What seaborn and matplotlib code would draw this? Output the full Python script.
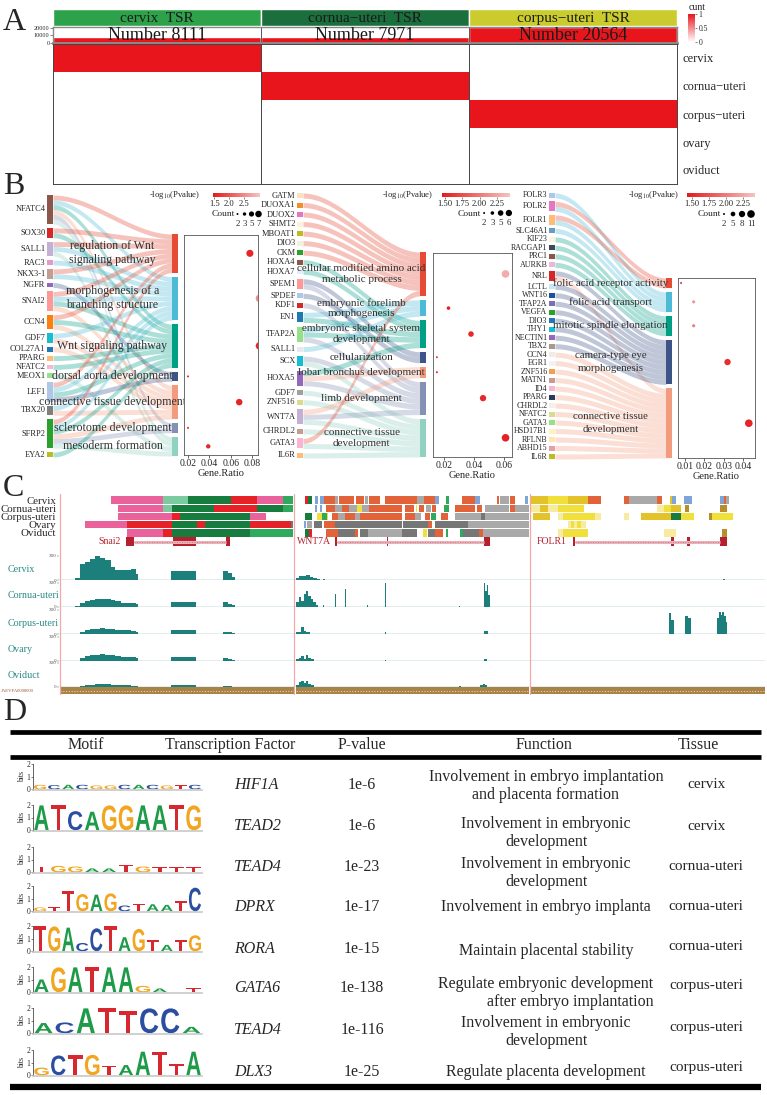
import numpy as np
import pandas as pd
import matplotlib
matplotlib.use('Agg')
import matplotlib.pyplot as plt
import seaborn as sns
from matplotlib.colors import LinearSegmentedColormap, Normalize
from matplotlib.cm import ScalarMappable
from matplotlib.textpath import TextPath
from matplotlib.patches import PathPatch, Rectangle
from matplotlib.font_manager import FontProperties
import matplotlib.transforms as mtransforms

sns.set_style('white')
plt.rcParams['font.family'] = ['Liberation Serif', 'DejaVu Serif']
plt.rcParams['mathtext.fontset'] = 'stix'
plt.rcParams['axes.linewidth'] = 0.6

# ---------------- data: panel A ----------------
tsr_labels = ['cervix  TSR', 'cornua\u2212uteri  TSR', 'corpus\u2212uteri  TSR']
tsr_numbers = [8111, 7971, 20564]
tissues = ['cervix', 'cornua\u2212uteri', 'corpus\u2212uteri', 'ovary', 'oviduct']
tsr_matrix = [[1, 0, 0], [0, 1, 0], [0, 0, 1], [0, 0, 0], [0, 0, 0]]

# ---------------- data: panel B ----------------
genes1 = ['NFATC4', 'SOX30', 'SALL1', 'RAC3', 'NKX3-1', 'NGFR', 'SNAI2', 'CCN4', 'GDF7', 'COL27A1',
          'PPARG', 'NFATC2', 'MEOX1', 'LEF1', 'TBX20', 'SFRP2', 'EYA2']
terms1 = ['regulation of Wnt\nsignaling pathway', 'morphogenesis of a\nbranching structure',
          'Wnt signaling pathway', 'dorsal aorta development', 'connective tissue development',
          'sclerotome development', 'mesoderm formation']
links1 = [[0, 1, 2, 4, 5, 6], [0, 2], [0, 1, 6], [1], [0, 1], [3], [0, 1, 2, 4], [0, 2, 4], [1, 4], [4],
          [2], [2], [6], [0, 1, 2, 3], [1, 4], [0, 1, 2, 4, 5, 6], [2]]
ratio1 = [0.078, 0.087, 0.087, 0.020, 0.068, 0.020, 0.039]
count1 = [8, 9, 9, 2, 7, 2, 4]
logp1 = [1.55, 2.55, 1.6, 1.5, 1.55, 1.5, 1.55]

genes2 = ['GATM', 'DUOXA1', 'DUOX2', 'SHMT2', 'MBOAT1', 'DIO3', 'CKM', 'HOXA4', 'HOXA7', 'SPEM1', 'SPDEF',
          'KDF1', 'EN1', 'TFAP2A', 'SALL1', 'SCX', 'HOXA5', 'GDF7', 'ZNF516', 'WNT7A', 'CHRDL2', 'GATA3', 'IL6R']
terms2 = ['cellular modified amino acid\nmetabolic process', 'embryonic forelimb\nmorphogenesis',
          'embryonic skeletal system\ndevelopment', 'cellularization', 'lobar bronchus development',
          'limb development', 'connective tissue\ndevelopment']
links2 = [[0], [0], [0], [0], [0], [0], [0], [2], [2], [3, 5], [3], [5], [1, 2], [1, 2, 5], [1], [5, 6],
          [2, 4, 5], [6], [6], [4, 5, 6], [6], [0, 6], [6]]
ratio2 = [0.061, 0.023, 0.038, 0.0153, 0.0153, 0.046, 0.061]
count2 = [8, 3, 5, 2, 2, 6, 8]
logp2 = [2.3, 1.5, 1.55, 1.55, 1.5, 1.55, 1.5]

genes3 = ['FOLR3', 'FOLR2', 'FOLR1', 'SLC46A1', 'KIF23', 'RACGAP1', 'PRC1', 'AURKB', 'NRL', 'LCTL', 'WNT16',
          'TFAP2A', 'VEGFA', 'DIO3', 'THY1', 'NECTIN1', 'TBX2', 'CCN4', 'EGR1', 'ZNF516', 'MATN1', 'ID4',
          'PPARG', 'CHRDL2', 'NFATC2', 'GATA3', 'HSD17B1', 'RFLNB', 'ABHD15', 'IL6R']
terms3 = ['folic acid receptor activity', 'folic acid transport', 'mitotic spindle elongation',
          'camera-type eye\nmorphogenesis', 'connective tissue\ndevelopment']
links3 = [[1], [0, 1], [0, 1], [1], [2], [2], [2], [2], [3, 4], [3], [3], [3], [3], [3], [3], [3], [3],
          [4], [4], [4], [4], [4], [4], [4], [4], [4], [4], [4], [4], [4]]
ratio3 = [0.008, 0.0145, 0.0145, 0.032, 0.043]
count3 = [2, 3, 3, 8, 11]
logp3 = [1.5, 2.15, 2.0, 1.55, 1.5]

# ---------------- data: panel C ----------------
track_names = ['Cervix', 'Cornua-uteri', 'Corpus-uteri', 'Ovary', 'Oviduct']
cervix_states = [(22, 44, 'P'), (44, 55, 'LT'), (55, 73, 'DG'), (73, 84, 'R'), (84, 95, 'P'), (95, 99.5, 'G'),
                 (104.7, 105.9, 'R'), (105.9, 107.6, 'DG'), (108.9, 110.2, 'B'), (111, 112.7, 'B'),
                 (112.7, 117.4, 'O'), (117.4, 118.6, 'GR'), (119.1, 125.4, 'O'), (126.3, 129.7, 'O'),
                 (130.1, 131.4, 'GR'), (131.8, 136.4, 'O'), (138.6, 152.1, 'O'), (152.1, 155.1, 'GR'),
                 (155.1, 159.7, 'O'), (159.7, 161.4, 'B'), (164.4, 165.7, 'G'), (171.2, 176.7, 'O'),
                 (176.7, 178.8, 'B'), (186, 186.9, 'O'), (187.3, 191.1, 'GR'), (191.5, 193.6, 'O'),
                 (197.9, 199.2, 'B'),
                 (200.1, 207.9, 'GO'), (207.9, 216.3, 'Y'), (216.3, 224.8, 'GO'), (224.8, 230.4, 'O'),
                 (240.2, 242.3, 'O'), (242.3, 254.3, 'GR'), (254.3, 256.4, 'O'), (259.6, 260.6, 'GO'),
                 (260.6, 262, 'B'), (265.5, 269.1, 'B'), (280.7, 282.5, 'B'), (282.5, 283.3, 'O'),
                 (283.3, 284.5, 'GR')]
cornua_states = [(25, 44, 'P'), (44, 48, 'LT'), (48, 66, 'DG'), (66, 84, 'R'), (84, 95, 'DG'), (95, 99.5, 'G'),
                 (108.9, 109.5, 'B'), (111, 111.8, 'B'), (113.5, 117.4, 'O'), (117.4, 120.3, 'GR'),
                 (120.3, 123.1, 'O'), (123.1, 126.7, 'GR'), (126.7, 128.8, 'Y'), (128.8, 131.6, 'GR'),
                 (131.6, 145.8, 'O'), (147, 150.8, 'O'), (151.5, 152.1, 'Y'), (152.8, 155.1, 'O'),
                 (155.8, 157.9, 'GR'), (158.6, 160, 'O'), (163.6, 165.7, 'G'), (168.2, 176.7, 'O'),
                 (177.5, 179.7, 'O'), (180.9, 191.1, 'GR'), (191.5, 193.6, 'O'), (193.6, 199.6, 'GR'),
                 (200.1, 204.4, 'LY'), (204.4, 207.9, 'GO'), (207.9, 212.1, 'LY'), (212.1, 223.3, 'Y'),
                 (254.3, 257.1, 'LY'), (257.1, 259.9, 'Y'), (259.9, 264.1, 'GO'), (266.2, 267.6, 'DGO'),
                 (280.7, 283.8, 'DGO')]
corpus_states = [(25, 48, 'P'), (48, 51.5, 'R'), (51.5, 81, 'DG'), (81, 88, 'P'),
                 (104.7, 107.6, 'DG'), (109.5, 111.6, 'Y'), (111.6, 113.7, 'G'), (113.7, 114.4, 'Y'),
                 (115.8, 118.6, 'O'), (118.6, 121.5, 'GR'), (121.5, 125.7, 'O'), (125.7, 128, 'GR'),
                 (128, 145.8, 'O'), (147, 151.2, 'O'), (151.2, 154, 'GR'), (155.4, 157.5, 'O'),
                 (158.2, 160.3, 'G'), (162.4, 165.3, 'O'), (168.2, 179.5, 'GR'), (179.5, 180.9, 'DGR'),
                 (180.9, 199.6, 'GR'),
                 (201.6, 208.6, 'GO'), (212.1, 214.2, 'LY'), (214.2, 227.6, 'Y'), (227.6, 230.4, 'LY'),
                 (240.2, 242.3, 'LY'), (247.3, 259.9, 'GO'), (259.9, 264.1, 'DG'), (264.1, 269.8, 'Y'),
                 (276.1, 277.5, 'DGO'), (277.5, 286.6, 'Y')]
ovary_states = [(11, 29, 'P'), (29, 48, 'R'), (48, 58.5, 'DG'), (58.5, 62, 'R'), (62, 81, 'DG'), (81, 98.5, 'R'),
                (98.5, 99.5, 'DGR'),
                (104.2, 105.1, 'B'), (105.5, 107.6, 'GR'), (108.3, 111.8, 'DGR'), (112.5, 117.4, 'O'),
                (117.4, 145.6, 'DGR'), (146.2, 157, 'DGR'), (157, 158.4, 'O'), (159.8, 173.9, 'DGR'),
                (173.9, 199.6, 'GR'),
                (216.3, 217.5, 'LY'), (217.5, 219, 'Y'), (219, 220, 'LY'), (220, 222, 'Y'), (222, 224.1, 'LY')]
oviduct_states = [(29, 44, 'P'), (44, 48, 'R'), (48, 81, 'DG'), (81, 99.5, 'G'),
                  (104.7, 106.1, 'DG'), (106.1, 107.6, 'R'), (113.3, 118.6, 'O'), (118.6, 125.7, 'DGR'),
                  (125.7, 127.1, 'O'), (127.8, 131.4, 'DGR'), (131.4, 145.8, 'GR'), (145.8, 152, 'DGR'),
                  (154.8, 156.2, 'Y'), (156.9, 159.7, 'DGR'), (159.7, 163.2, 'O'), (164.6, 165.3, 'G'),
                  (170.2, 171.6, 'G'), (171.6, 178.6, 'DGR'), (178.6, 180, 'O'), (180, 199.6, 'GR'),
                  (212.1, 214.2, 'LY'), (214.2, 224.8, 'Y'), (257.1, 262, 'LY'), (281.7, 283.8, 'DGO')]

gene_names_c = ['Snai2', 'WNT7A', 'FOLR1']
gene_label_at = [16.7, 101.3, 203]
gene_spans = [(31.8, 70.8), (118.2, 180.5), (219.4, 281)]
gene_exons = [[(28.3, 31.8), (48.5, 58.4), (70.8, 72.5)],
              [(117.4, 118.2), (139.4, 139.8), (180.5, 183.1)],
              [(218.6, 219.4), (259.9, 261.2), (266.7, 268), (281, 284)]]

snai2_bins = [(7, 9), (9, 11), (11, 13.3), (13.3, 15.5), (15.5, 17.6), (17.6, 19.7), (19.7, 21.9), (21.9, 24),
              (24, 26.2), (26.2, 28.3), (28.3, 30.5), (30.5, 32.6), (32.6, 33.5), (47.6, 58.4),
              (69.5, 72), (72, 73.4), (73.4, 74.7)]
cervix_snai2 = [20, 200, 230, 260, 300, 280, 245, 165, 130, 125, 125, 135, 70, 115, 115, 85, 40]
cornua_snai2 = [10, 50, 75, 85, 95, 100, 95, 85, 70, 55, 55, 50, 40, 60, 60, 40, 20]
corpus_snai2 = [5, 30, 50, 60, 65, 70, 65, 60, 55, 50, 45, 40, 30, 45, 30, 20, 10]
ovary_snai2 = [5, 40, 65, 75, 80, 85, 80, 70, 60, 55, 50, 45, 35, 55, 40, 25, 10]
oviduct_snai2 = [3, 15, 25, 30, 32, 35, 32, 30, 25, 22, 20, 18, 12, 20, 15, 10, 5]

cervix_peaks = [(100.5, 102, 30), (102, 103.5, 55), (103.5, 105, 45), (105, 106.5, 60), (106.5, 108, 40),
                (108, 109.5, 25), (109.5, 111, 15), (112, 113, 10), (282, 283, 10)]
cornua_peaks = [(100.5, 102, 60), (102, 103, 120), (103, 104, 80), (104, 105, 160), (105, 106, 200),
                (106, 107, 140), (107, 108, 100), (108, 109, 60), (109, 110, 30), (112, 112.6, 20),
                (117.2, 117.7, 165), (121.4, 121.9, 230), (130.8, 131.2, 20), (138.4, 138.9, 300),
                (160, 160.4, 15), (170, 170.4, 10), (180.5, 181.2, 300), (181.2, 182, 200), (182, 182.5, 280),
                (182.5, 183.3, 150)]
corpus_peaks = [(100.5, 102, 30), (102, 103, 20), (103, 104, 90), (104, 105, 40), (105, 106.5, 25),
                (138.4, 138.8, 20), (180.8, 182.2, 40), (259.1, 260.2, 260), (260.2, 261.2, 180),
                (266.2, 267.2, 230), (267.2, 268.4, 200), (279.7, 280.4, 200), (280.4, 281.1, 270),
                (281.1, 281.8, 240), (281.8, 282.6, 280), (282.6, 283.3, 230), (283.3, 284, 150)]
ovary_peaks = [(100.5, 102, 20), (102, 103, 40), (103, 104, 60), (104, 105, 30), (105, 106, 70),
               (106, 107, 40), (107, 108.5, 20), (138.4, 138.8, 15), (180.8, 181.8, 20)]
oviduct_peaks = [(100.5, 102, 30), (102, 103, 60), (103, 104, 70), (104, 105, 50), (105, 106, 80),
                 (106, 107, 40), (107, 108.5, 30), (170, 171, 15), (179, 180, 25), (180, 181, 35), (181, 182, 20)]

# ---------------- data: panel D ----------------
table_header = ['Motif', 'Transcription Factor', 'P-value', 'Function', 'Tissue']
motif_seqs = ['GCACGGCACGTC', 'ATCAGGAATG', 'TGGAATGTTT', 'GTTGAGCTAATC', 'TGACCTAGTATG',
              'AGATAAGA T', 'ACATTCCA', 'GCTGTAATTA']
motif_heights = [[0.35, 0.33, 0.35, 0.35, 0.3, 0.3, 0.35, 0.35, 0.35, 0.3, 0.35, 0.35],
                 [1.95, 1.95, 1.5, 1.45, 1.95, 1.95, 1.95, 1.95, 1.95, 1.95],
                 [0.45, 0.5, 0.45, 0.3, 0.3, 0.55, 0.45, 0.4, 0.4, 0.4],
                 [0.3, 0.35, 1.6, 1.35, 1.3, 1.4, 0.45, 0.55, 0.55, 0.5, 0.8, 1.85],
                 [1.95, 1.95, 1.85, 0.65, 1.8, 1.95, 1.1, 1.75, 0.85, 0.5, 0.9, 1.25],
                 [1.0, 1.95, 1.95, 1.95, 1.95, 1.95, 0.5, 0.3, 0, 0.3],
                 [0.8, 0.85, 1.95, 1.95, 1.75, 1.95, 1.95, 0.5],
                 [0.6, 1.55, 1.55, 1.6, 0.75, 0.8, 1.85, 1.85, 0.9, 1.85]]
tf_names = ['HIF1A', 'TEAD2', 'TEAD4', 'DPRX', 'RORA', 'GATA6', 'TEAD4', 'DLX3']
p_values = ['1e-6', '1e-6', '1e-23', '1e-17', '1e-15', '1e-138', '1e-116', '1e-25']
functions = ['Involvement in embryo implantation\nand placenta formation',
             'Involvement in embryonic\ndevelopment', 'Involvement in embryonic\ndevelopment',
             'Involvement in embryo implanta', 'Maintain placental stability',
             'Regulate embryonic development\nafter embryo implantation',
             'Involvement in embryonic\ndevelopment', 'Regulate placenta development']
tissue_col = ['cervix', 'cervix', 'cornua-uteri', 'cornua-uteri', 'cornua-uteri',
              'corpus-uteri', 'corpus-uteri', 'corpus-uteri']

# ---------------- styles ----------------
tsr_colors = ['#2ea24a', '#1b6f3d', '#c9cc2c']
npg = ['#E64B35', '#4DBBD5', '#00A087', '#3C5488', '#F39B7F', '#8491B4', '#91D1C2']
gene_colors1 = ['#8c564b', '#d62728', '#c5b0d5', '#e59acb', '#c49c94', '#9467bd', '#ff9896', '#ff7f0e',
                '#17becf', '#1f77b4', '#ffbb78', '#f7b6d2', '#98df8a', '#aec7e8', '#7f7f7f', '#2ca02c', '#bcbd22']
gene_colors2 = ['#fde2c0', '#f28e2b', '#e377c2', '#fff0d8', '#bcbd22', '#f5f0dc', '#2ca02c', '#8c564b',
                '#dfeef8', '#ff9896', '#aec7e8', '#d62728', '#1f77b4', '#98df8a', '#e8e8ef', '#17becf',
                '#9467bd', '#a0a0a0', '#dbdb8d', '#c5b0d5', '#c49c94', '#f7b6d2', '#ffbb78']
gene_colors3 = ['#aec7e8', '#e377c2', '#ffbb78', '#6b9ac4', '#fdf3e0', '#3a4a5a', '#8c564b', '#e8b8d8',
                '#d62728', '#c6e8f0', '#1f4fa0', '#7b6fb8', '#2ca02c', '#1f77b4', '#17becf', '#9467bd',
                '#a89a8a', '#f0ece4', '#f6f0f0', '#f0a050', '#c49c94', '#f7b6d2', '#2a3a5a', '#f4efe8',
                '#dbdb8d', '#98df8a', '#fff2c0', '#ffe8b0', '#e8a0a8', '#bcbd22']
state_colors = {'P': '#e9629b', 'LT': '#7ccaa0', 'DG': '#167d3e', 'R': '#e62128', 'G': '#2fa95c',
                'O': '#e2623a', 'GR': '#a9a9a9', 'DGR': '#767676', 'B': '#7fa5d6', 'Y': '#f1e03c',
                'GO': '#e4c229', 'LY': '#f6eba0', 'DGO': '#b68f2a'}
letter_colors = {'A': '#1e9b48', 'C': '#2c4ea0', 'G': '#f2a51f', 'T': '#d7282f'}
teal = '#1d7f7c'
cmap_cunt = LinearSegmentedColormap.from_list('cunt', ['#ffffff', '#e8161c'])
cmap_p = LinearSegmentedColormap.from_list('pv', ['#e41a1c', '#f4c4c0'])

W, H = 767, 1095
fig = plt.figure(figsize=(W / 100, H / 100), dpi=100)


def px_axes(x0, y0, x1, y1):
    return fig.add_axes([x0 / W, 1 - y1 / H, (x1 - x0) / W, (y1 - y0) / H])


def ftext(x, y, s, **kw):
    return fig.text(x / W, 1 - y / H, s, **kw)


for letter, y in zip('ABCD', [22, 187, 488, 712]):
    ftext(3, y, letter, fontsize=23, va='center', ha='left')

# ================= panel A =================
ax = px_axes(53, 9, 677, 26)
ax.bar(range(3), [1, 1, 1], width=1, color=tsr_colors)
ax.set_xlim(-0.5, 2.5)
ax.set_ylim(0, 1)
ax.axis('off')
for i, lab in enumerate(tsr_labels):
    ax.text(i, 0.45, lab, ha='center', va='center', fontsize=11, color='#1a1a1a')

ax = px_axes(53, 27, 677, 43)
num_df = pd.DataFrame({'group': tsr_labels, 'n': tsr_numbers})
sns.barplot(data=num_df, x='group', y='n', color='#e8161c', saturation=1, width=1, errorbar=None, ax=ax)
ax.set_xlim(-0.5, 2.5)
ax.set_ylim(0, 21000)
ax.set_xticks([])
ax.set_xlabel('')
ax.set_ylabel('')
ax.set_yticks([0, 10000, 20000])
ax.tick_params(axis='y', labelsize=4.5, length=2, width=0.4, pad=0.5, left=True)
for i, n in enumerate(tsr_numbers):
    ax.text(i, 10000, 'Number %d' % n, ha='center', va='center', fontsize=13, color='#1a1a1a')
for s in ax.spines.values():
    s.set_color('#8a8a8a')
    s.set_linewidth(1.0)
ax.spines['bottom'].set_linewidth(2)
ax.axvline(0.5, color='#555555', lw=0.7)
ax.axvline(1.5, color='#555555', lw=0.7)

ax = px_axes(53, 44, 677, 184)
sns.heatmap(pd.DataFrame(tsr_matrix, index=tissues, columns=tsr_labels), cmap=cmap_cunt, vmin=0, vmax=1,
            cbar=False, xticklabels=False, ax=ax)
ax.yaxis.tick_right()
ax.set_yticks(np.arange(5) + 0.5)
ax.set_yticklabels(tissues, rotation=0, fontsize=9)
ax.tick_params(length=0, pad=4)
ax.set_ylabel('')
for s in ax.spines.values():
    s.set_visible(True)
    s.set_color('#444444')
    s.set_linewidth(0.7)
ax.axvline(1, color='#444444', lw=0.7)
ax.axvline(2, color='#444444', lw=0.7)

cax = px_axes(688, 14, 695, 42)
cb = fig.colorbar(ScalarMappable(Normalize(0, 1), cmap_cunt), cax=cax)
cb.outline.set_visible(False)
cb.set_ticks([0, 0.5, 1])
cb.set_ticklabels(['0', '0.5', '1'])
cax.tick_params(labelsize=5.5, length=1.5, width=0.4, pad=1)
ftext(689, 7, 'cunt', fontsize=7, ha='left', va='center')


# ================= panel B =================
def sankey(rect, genes, gcols, terms, links, gspan, tspan, ggap, tgap, term_fs, gene_fs, lsp):
    x0, y0, x1, y1 = rect
    ax = px_axes(x0, y0, x1, y1)
    ax.set_xlim(x0, x1)
    ax.set_ylim(y1, y0)
    ax.axis('off')
    gcount = [len(l) for l in links]
    tcount = [sum(t in l for l in links) for t in range(len(terms))]
    gu = (gspan[1] - gspan[0] - ggap * (len(genes) - 1)) / sum(gcount)
    tu = (tspan[1] - tspan[0] - tgap * (len(terms) - 1)) / sum(tcount)
    gpos, tpos = [], []
    y = gspan[0]
    for c in gcount:
        gpos.append(y)
        y += c * gu + ggap
    y = tspan[0]
    for c in tcount:
        tpos.append(y)
        y += c * tu + tgap
    bw = 6
    xs = np.linspace(x0 + bw, x1 - bw, 80)
    s = (xs - xs[0]) / (xs[-1] - xs[0])
    s = s * s * (3 - 2 * s)
    gcur, tcur = list(gpos), list(tpos)
    for gi, lk in enumerate(links):
        for t in sorted(lk):
            gy, ty = gcur[gi], tcur[t]
            top = gy + (ty - gy) * s
            bot = gy + gu + (ty + tu - gy - gu) * s
            ax.fill_between(xs, top, bot, color=npg[t], alpha=0.33, lw=0)
            gcur[gi] += gu
            tcur[t] += tu
    for gi, g in enumerate(genes):
        ax.add_patch(Rectangle((x0, gpos[gi]), bw, gcount[gi] * gu, color=gcols[gi], lw=0))
        ax.text(x0 - 1.5, gpos[gi] + gcount[gi] * gu / 2, g, ha='right', va='center', fontsize=gene_fs,
                clip_on=False)
    centers = []
    for t, name in enumerate(terms):
        ax.add_patch(Rectangle((x1 - bw, tpos[t]), bw, tcount[t] * tu, color=npg[t], lw=0))
        c = tpos[t] + tcount[t] * tu / 2
        centers.append(c)
        ax.text((x0 + x1) / 2, c, name, ha='center', va='center', fontsize=term_fs, color='#333333',
                linespacing=lsp)
    return centers


def dotplot(rect, centers, ratio, count, logp, xlim, xticks, xticklabels, vlim, smax):
    x0, y0, x1, y1 = rect
    ax = px_axes(x0, y0, x1, y1)
    df = pd.DataFrame({'ratio': ratio, 'y': centers, 'count': count, 'logp': logp})
    sns.scatterplot(data=df, x='ratio', y='y', hue='logp', size='count', palette=cmap_p, hue_norm=vlim,
                    sizes=(2, 30), size_norm=(2, smax), legend=False, linewidth=0, ax=ax)
    ax.set_ylim(y1, y0)
    ax.set_xlim(*xlim)
    ax.set_xticks(xticks)
    ax.set_xticklabels(xticklabels)
    ax.set_yticks([])
    ax.set_ylabel('')
    ax.set_xlabel('Gene.Ratio', fontsize=7.5, labelpad=0.5)
    ax.tick_params(axis='x', labelsize=7, length=2, width=0.5, pad=1, bottom=True)
    for sp in ax.spines.values():
        sp.set_color('#555555')
        sp.set_linewidth(0.6)


def p_colorbar(label_right, rect, vlim, ticks, ticklabels):
    cax = px_axes(*rect)
    cb = fig.colorbar(ScalarMappable(Normalize(*vlim), cmap_p), cax=cax, orientation='horizontal')
    cb.outline.set_visible(False)
    cb.set_ticks(ticks)
    cb.set_ticklabels(ticklabels)
    cax.tick_params(labelsize=6.2, length=1.5, width=0.4, pad=0.5)
    ftext(label_right, (rect[1] + rect[3]) / 2, r'-log$_{10}$(Pvalue)', ha='right', va='center', fontsize=6.2)


def count_legend(rect, breaks, smax):
    x0, y0, x1, y1 = rect
    ax = px_axes(x0, y0, x1, y1)
    sns.scatterplot(x=list(range(len(breaks))), y=[1] * len(breaks), size=breaks, sizes=(2, 30),
                    size_norm=(2, smax), color='black', linewidth=0, legend=False, ax=ax)
    for i, b in enumerate(breaks):
        ax.text(i, 0, str(b), ha='center', va='center', fontsize=6.3)
    ax.set_xlim(-0.5, len(breaks) - 0.5)
    ax.set_ylim(-0.5, 1.5)
    ax.axis('off')
    ftext(x0 + 1, y0 + 5.5, 'Count', ha='right', va='center', fontsize=6.8)


c1 = sankey((47, 188, 178, 462), genes1, gene_colors1, terms1, links1, (195, 457), (234, 456), 4, 4, 8.6, 6.0, 1.2)
dotplot((184, 235, 258, 455), c1, ratio1, count1, logp1, (0.0163, 0.0856), [0.02, 0.04, 0.06, 0.08],
        ['0.02', '0.04', '0.06', '0.08'], (1.45, 3.05), 9)
p_colorbar(200, (213, 193, 260, 197), (1.45, 3.05), [1.5, 2.0, 2.5], ['1.5', '2.0', '2.5'])
count_legend((234, 209, 262, 229), [2, 3, 5, 7], 9)

c2 = sankey((297, 188, 426, 462), genes2, gene_colors2, terms2, links2, (193, 458), (252, 457), 4.5, 4, 8.0, 6.0, 1.2)
dotplot((433, 253, 512, 457), c2, ratio2, count2, logp2, (0.0127, 0.0653), [0.02, 0.04, 0.06],
        ['0.02', '0.04', '0.06'], (1.456, 2.44), 8)
p_colorbar(433, (442, 193, 510, 197), (1.456, 2.44), [1.5, 1.75, 2.0, 2.25], ['1.50', '1.75', '2.00', '2.25'])
count_legend((480, 208, 513, 228), [2, 3, 5, 6], 8)

c3 = sankey((549, 188, 672, 462), genes3, gene_colors3, terms3, links3, (193, 459), (278, 458), 3.5, 4, 7.8, 5.8, 1.6)
dotplot((678, 278, 755, 458), c3, ratio3, count3, logp3, (0.0064, 0.0462), [0.01, 0.02, 0.03, 0.04],
        ['0.01', '0.02', '0.03', '0.04'], (1.43, 2.43), 11)
p_colorbar(679, (687, 193, 755, 197), (1.43, 2.43), [1.5, 1.75, 2.0, 2.25], ['1.50', '1.75', '2.00', '2.25'])
count_legend((719.5, 209, 755.5, 229), [2, 5, 8, 11], 11)

# ================= panel C =================
ax = px_axes(59, 496, 765, 537)
all_states = [cervix_states, cornua_states, corpus_states, ovary_states, oviduct_states]
for i, segs in enumerate(all_states):
    for s0, s1, st in segs:
        ax.broken_barh([(s0, s1 - s0)], (i + 0.06, 0.88), color=state_colors[st], lw=0)
ax.set_xlim(0, 300)
ax.set_ylim(5, 0)
ax.set_xticks([])
ax.set_yticks(np.arange(5) + 0.5)
ax.set_yticklabels(track_names, fontsize=7.8)
ax.tick_params(length=0, pad=2)
for sp in ax.spines.values():
    sp.set_visible(False)

ax = px_axes(59, 535, 765, 548)
for name, lx, (g0, g1), exons in zip(gene_names_c, gene_label_at, gene_spans, gene_exons):
    ax.plot([g0, g1], [0.5, 0.5], color='#eab2b8', lw=2.2, solid_capstyle='butt')
    ax.plot([g0, g1], [0.5, 0.5], color='#c46470', lw=0.6, ls=(0, (1, 2)))
    ax.broken_barh([(e0, e1 - e0) for e0, e1 in exons], (0.12, 0.76), color='#b5202e', lw=0)
    ax.text(lx, 0.5, name, ha='left', va='center', fontsize=7, color='#b5202e')
ax.set_xlim(0, 300)
ax.set_ylim(0, 1)
ax.axis('off')

snai2_heights = [cervix_snai2, cornua_snai2, corpus_snai2, ovary_snai2, oviduct_snai2]
all_peaks = [cervix_peaks, cornua_peaks, corpus_peaks, ovary_peaks, oviduct_peaks]
baselines = [580, 607, 634, 661, 687]
for name, hts, peaks, base in zip(track_names, snai2_heights, all_peaks, baselines):
    ax = px_axes(59, base - 25, 765, base)
    starts = [b[0] for b in snai2_bins] + [p[0] for p in peaks]
    widths = [b[1] - b[0] for b in snai2_bins] + [p[1] - p[0] for p in peaks]
    heights = list(hts) + [p[2] for p in peaks]
    ax.bar(starts, heights, width=widths, align='edge', color=teal, lw=0)
    ax.axhline(0, color=teal, lw=0.9)
    ax.set_xlim(0, 300)
    ax.set_ylim(0, 312)
    ax.set_xticks([])
    ax.set_yticks([0, 300])
    ax.set_yticklabels(['0', '300'])
    ax.tick_params(axis='y', labelsize=3.6, length=1.2, width=0.3, pad=0.5, colors='#555555', left=True)
    for sp in ax.spines.values():
        sp.set_visible(False)
    ax.patch.set_alpha(0)
    ftext(8, base - 11, name, fontsize=7.2, color='#2a8a88', ha='left', va='center')

ax = px_axes(59, 687, 765, 694)
ax.broken_barh([(0.3, 99.4), (100.6, 99), (200.6, 99.2)], (0, 1), color='#a98248', lw=0)
ax.hlines(0.5, 0.3, 299.8, color='#e6d2a4', lw=0.8, ls=(0, (1, 1.5)))
ax.set_xlim(0, 300)
ax.set_ylim(0, 1)
ax.axis('off')
ftext(1, 690.5, 'JAEVFA0000000', fontsize=3.4, color='#a0522d', ha='left', va='center')

ax = px_axes(59, 494, 765, 695)
ax.patch.set_alpha(0)
for xv in [0.25, 100, 200]:
    ax.axvline(xv, color='#f0a8a8', lw=0.9)
ax.set_xlim(0, 300)
ax.axis('off')

# ================= panel D =================
tab = px_axes(0, 725, 767, 1095)
tab.set_xlim(0, 767)
tab.set_ylim(1095, 725)
tab.axis('off')
tab.hlines([732, 757], 10, 761, color='black', lw=3.4)
tab.hlines(1087, 10, 761, color='black', lw=4.5)
for lab, x in zip(table_header, [86, 230, 362, 544, 698]):
    tab.text(x, 745, lab, ha='center', va='center', fontsize=11.5)

tf_y = [785, 826, 867, 907, 949, 988, 1030, 1072]
func_y = [786, 833, 873, 907, 951, 993, 1032, 1072]
tissue_y = [785, 826, 867, 907, 947, 985, 1028, 1068]
logo_base = [789, 830, 872, 911, 951, 992, 1033, 1075]
func_align = ['center'] * 5 + ['right'] + ['center'] * 2
for i in range(len(tf_names)):
    tab.text(234, tf_y[i], tf_names[i], ha='left', va='center', fontsize=11.5, style='italic')
    tab.text(362, tf_y[i], p_values[i], ha='center', va='center', fontsize=11.5)
    tab.text(546, func_y[i], functions[i], ha='center', va='center', fontsize=11.5, linespacing=1.2,
             multialignment=func_align[i])
    tab.text(706, tissue_y[i], tissue_col[i], ha='center', va='center', fontsize=11)

fp_logo = FontProperties(family='Liberation Sans', weight='bold')
for seq, hts, base in zip(motif_seqs, motif_heights, logo_base):
    ax = px_axes(33, base - 25.5, 202, base + 0.5)
    for i, (ch, h) in enumerate(zip(seq, hts)):
        if ch == ' ' or h <= 0:
            continue
        tp = TextPath((0, 0), ch, size=1, prop=fp_logo)
        bb = tp.get_extents()
        tr = (mtransforms.Affine2D().translate(-bb.x0, -bb.y0)
              .scale(0.86 / bb.width, h / bb.height).translate(i + 0.07, 0))
        ax.add_patch(PathPatch(tr.transform_path(tp), fc=letter_colors[ch], ec='none'))
    ax.set_xlim(0, len(seq))
    ax.set_ylim(-0.02, 2.02)
    ax.set_xticks([])
    ax.set_yticks([0, 1, 2])
    ax.tick_params(axis='y', labelsize=5.5, length=1.5, width=0.4, pad=0.5, left=True)
    ax.set_ylabel('bits', fontsize=5.5, labelpad=0.5)
    ax.spines['top'].set_visible(False)
    ax.spines['right'].set_visible(False)
    ax.spines['left'].set_linewidth(0.5)
    ax.spines['bottom'].set_color('#c8c8c8')
    ax.spines['bottom'].set_linewidth(1.2)
    ax.patch.set_alpha(0)

fig.savefig('out.png', dpi=100)
